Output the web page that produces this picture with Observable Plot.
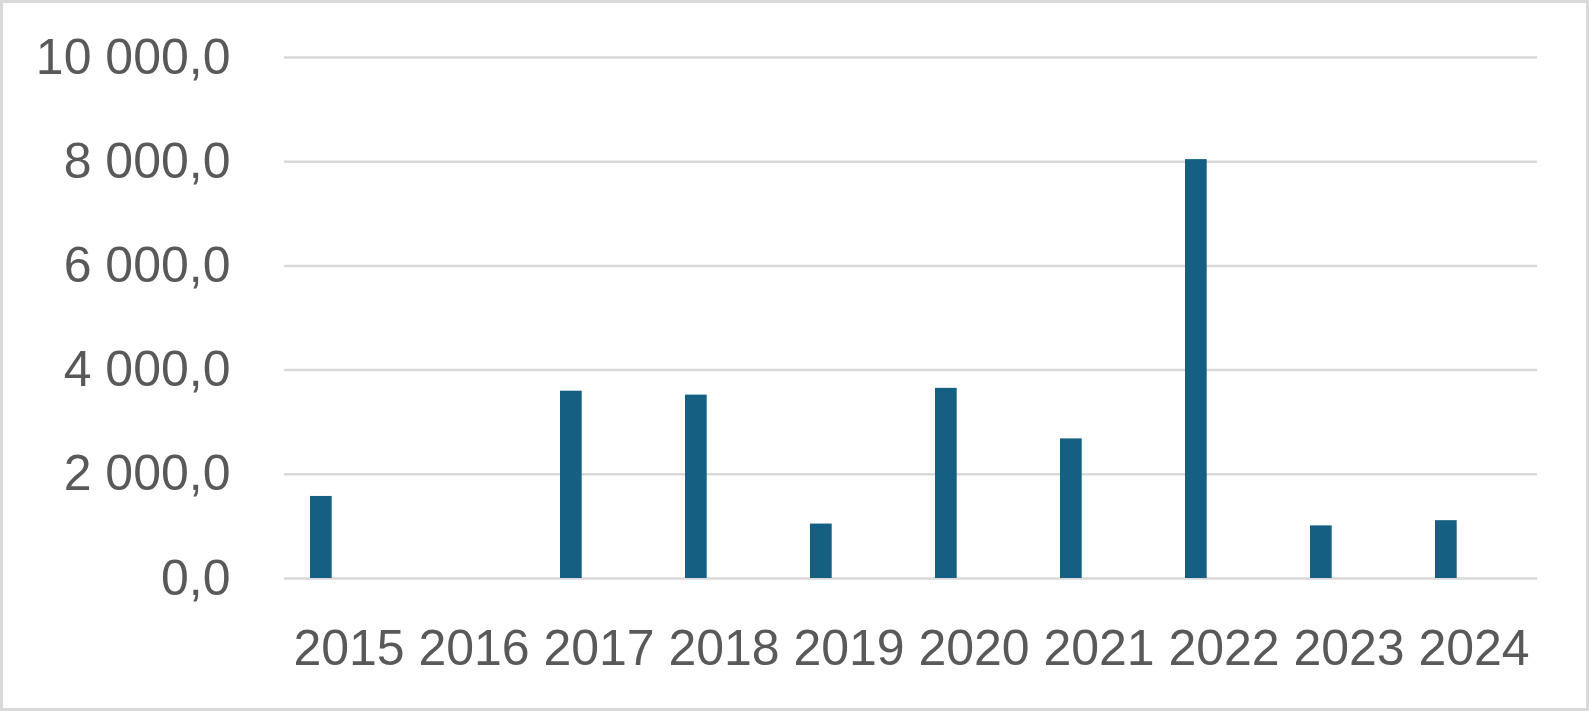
<!DOCTYPE html>
<html><head><meta charset="utf-8">
<script src="https://cdn.jsdelivr.net/npm/d3@7"></script>
<script src="https://cdn.jsdelivr.net/npm/@observablehq/plot@0.6"></script>
<style>
html,body{margin:0;padding:0;background:#fff;}
#wrap{position:relative;width:1589px;height:711px;overflow:hidden;background:#fff;}
#frame{position:absolute;left:0;top:0;width:1589px;height:711px;box-sizing:border-box;border:3px solid #d9d9d9;pointer-events:none;}
</style></head><body>
<div id="wrap"><div id="chart"></div><div id="frame"></div></div>
<script>
const years = ["2015","2016","2017","2018","2019","2020","2021","2022","2023","2024"];
const values = [1575, 0, 3595, 3520, 1045, 3650, 2680, 8040, 1010, 1110];
const yTicks = [0, 2000, 4000, 6000, 8000, 10000];

const data = years.map((year, i) => ({year, value: values[i]}));
const locale = d3.formatLocale({decimal: ",", thousands: "\u00a0", grouping: [3], currency: ["", ""]});
const fmt = locale.format(",.1f");

const chart = Plot.plot({
  width: 1589,
  height: 711,
  marginLeft: 284,
  marginRight: 52,
  marginTop: 57,
  marginBottom: 133,
  style: {fontFamily: "'Liberation Sans', Arial, sans-serif", fontSize: "50px", color: "#595959", background: "transparent"},
  x: {type: "band", domain: years, padding: 0, label: null, tickSize: 0, tickPadding: 51},
  y: {domain: [0, 10000], ticks: yTicks, tickFormat: fmt, label: null, tickSize: 0, tickPadding: 54},
  marks: [
    Plot.ruleY(yTicks, {stroke: "#d9d9d9", strokeWidth: 2.5}),
    Plot.barY(data, {x: "year", y: "value", fill: "#156082", insetLeft: 24, insetRight: 79.3})
  ]
});
document.getElementById("chart").appendChild(chart);
</script>
</body></html>
